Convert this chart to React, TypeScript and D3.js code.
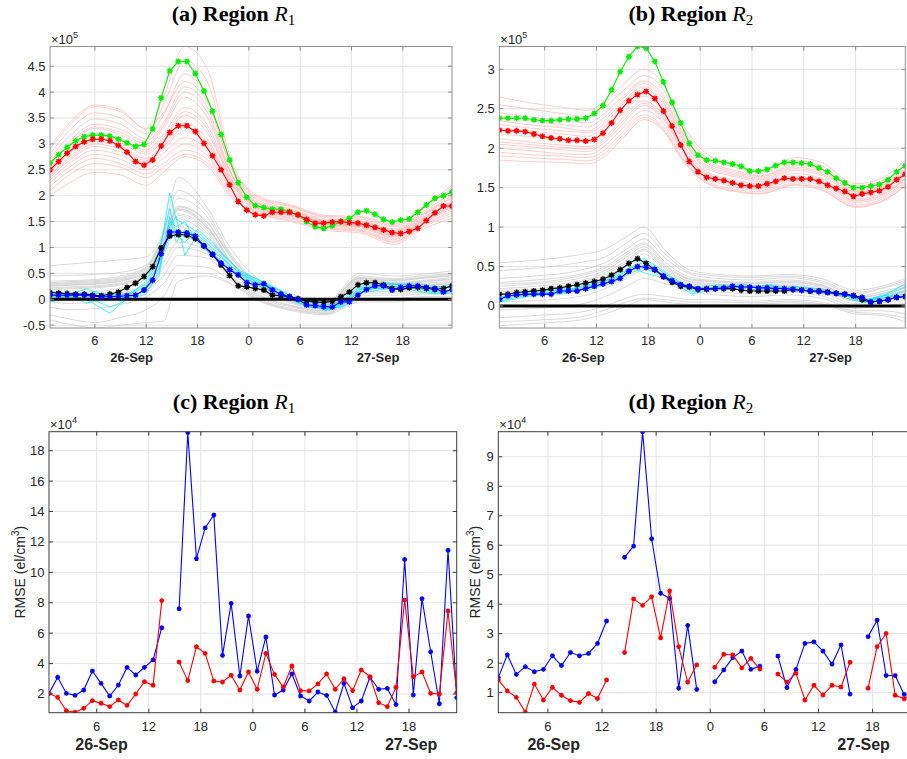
import React from 'react';
import * as d3 from 'd3';

// ---------- shared axis data ----------
const HOURS_TOP = d3.range(48).map((i) => 0.75 + i);
const HOURS_BOT = d3.range(48).map((i) => 0.5 + i);
const X_TICKS = [6, 12, 18, 24, 30, 36, 42];
const X_TICK_LABELS = ['6', '12', '18', '0', '6', '12', '18'];
const DATES = ['26-Sep', '27-Sep'];

// ---------- (a) Region R1, values x1e5 ----------
const A_GREEN = [2.63,2.79,2.93,3.06,3.14,3.17,3.17,3.15,3.09,3.02,2.95,2.99,3.29,3.89,4.41,4.59,4.59,4.36,4.02,3.63,3.18,2.69,2.25,1.97,1.81,1.77,1.74,1.74,1.69,1.63,1.50,1.40,1.37,1.42,1.50,1.56,1.68,1.71,1.64,1.54,1.49,1.53,1.55,1.68,1.82,1.95,2.00,2.07];
const A_RED = [2.50,2.66,2.82,2.95,3.04,3.09,3.09,3.06,2.97,2.84,2.66,2.59,2.69,2.96,3.22,3.35,3.35,3.24,3.01,2.77,2.50,2.21,1.89,1.72,1.63,1.61,1.68,1.68,1.68,1.63,1.54,1.47,1.47,1.49,1.50,1.48,1.47,1.43,1.39,1.34,1.29,1.27,1.31,1.37,1.52,1.67,1.80,1.80];
const A_BLACK = [0.13,0.12,0.11,0.10,0.10,0.08,0.07,0.10,0.14,0.23,0.31,0.44,0.63,0.99,1.22,1.25,1.24,1.17,1.03,0.86,0.66,0.46,0.26,0.24,0.21,0.18,0.08,0.07,0.05,0.01,-0.03,-0.05,-0.06,-0.04,0.05,0.14,0.28,0.32,0.32,0.28,0.21,0.19,0.22,0.23,0.21,0.19,0.21,0.26];
const A_BLUE = [0.08,0.08,0.08,0.08,0.08,0.06,0.05,0.05,0.06,0.07,0.08,0.18,0.37,0.88,1.30,1.30,1.28,1.22,1.03,0.87,0.70,0.57,0.47,0.32,0.28,0.30,0.18,0.10,0.05,0.00,-0.11,-0.12,-0.14,-0.15,-0.05,-0.05,0.08,0.19,0.26,0.26,0.18,0.23,0.26,0.26,0.23,0.21,0.14,0.19];

const A_PINK_KNOTS = [0.75, 3, 6, 9, 12, 14, 16.5, 19, 22, 25, 29, 33, 37, 41, 44, 47.75];
const A_PINK = [
  [2.90,3.35,3.72,3.62,3.30,3.90,4.88,4.50,2.65,2.00,1.82,1.62,1.60,1.45,1.75,2.20],
  [2.95,3.40,3.75,3.66,3.28,3.60,4.20,3.85,2.55,1.98,1.80,1.60,1.58,1.42,1.72,2.15],
  [2.80,3.25,3.60,3.50,3.20,3.75,4.60,4.25,2.58,1.95,1.78,1.58,1.55,1.40,1.70,2.12],
  [2.72,3.15,3.48,3.38,3.10,3.55,4.35,3.95,2.50,1.92,1.74,1.55,1.52,1.36,1.65,2.05],
  [2.65,3.05,3.38,3.28,3.05,3.40,4.10,3.75,2.42,1.88,1.72,1.52,1.50,1.33,1.62,2.00],
  [2.62,3.00,3.33,3.22,3.00,3.35,4.00,3.65,2.40,1.86,1.71,1.51,1.48,1.31,1.60,1.97],
  [2.58,2.98,3.30,3.18,2.95,3.30,3.90,3.55,2.38,1.85,1.70,1.50,1.47,1.30,1.58,1.95],
  [2.52,2.90,3.20,3.10,2.88,3.18,3.70,3.40,2.33,1.83,1.68,1.48,1.45,1.28,1.55,1.90],
  [2.48,2.86,3.16,3.06,2.84,3.12,3.62,3.32,2.30,1.81,1.67,1.47,1.44,1.26,1.53,1.88],
  [2.45,2.82,3.12,3.02,2.80,3.08,3.55,3.25,2.28,1.80,1.66,1.47,1.43,1.25,1.52,1.86],
  [2.40,2.75,3.05,2.95,2.72,2.98,3.40,3.12,2.24,1.78,1.64,1.45,1.42,1.23,1.50,1.82],
  [2.38,2.72,3.00,2.90,2.68,2.94,3.32,3.06,2.22,1.77,1.63,1.44,1.41,1.22,1.48,1.80],
  [2.35,2.68,2.95,2.85,2.65,2.90,3.25,3.00,2.20,1.76,1.62,1.44,1.40,1.20,1.47,1.78],
  [2.30,2.62,2.88,2.78,2.58,2.82,3.12,2.90,2.15,1.74,1.60,1.42,1.38,1.18,1.45,1.75],
  [2.25,2.55,2.80,2.70,2.50,2.72,3.00,2.80,2.10,1.72,1.57,1.40,1.35,1.15,1.42,1.70],
  [2.18,2.48,2.72,2.62,2.42,2.62,2.88,2.72,2.05,1.70,1.55,1.38,1.33,1.12,1.40,1.66],
  [2.10,2.40,2.62,2.55,2.35,2.55,2.80,2.65,2.00,1.68,1.52,1.36,1.31,1.10,1.37,1.62],
  [2.00,2.25,2.45,2.40,2.20,2.45,2.75,2.60,1.95,1.66,1.50,1.33,1.28,1.06,1.33,1.56],
];
const A_GRAY_KNOTS = [0.75, 3, 6, 9, 12, 14, 15.75, 19, 22, 25, 29, 33, 37, 41, 44, 47.75];
const A_GRAY = [
  [0.65,0.68,0.72,0.76,0.82,1.30,2.35,1.80,0.95,0.40,0.10,-0.05,0.50,0.45,0.48,0.55],
  [0.45,0.46,0.48,0.52,0.66,1.22,1.95,1.62,0.82,0.32,0.04,-0.06,0.42,0.38,0.42,0.48],
  [0.35,0.36,0.38,0.45,0.62,1.25,2.10,1.70,0.85,0.35,0.05,-0.08,0.45,0.40,0.45,0.50],
  [0.32,0.34,0.36,0.42,0.60,1.18,1.80,1.52,0.80,0.31,0.03,-0.09,0.41,0.36,0.41,0.46],
  [0.30,0.32,0.34,0.40,0.58,1.15,1.78,1.50,0.78,0.30,0.02,-0.10,0.40,0.35,0.40,0.45],
  [0.28,0.30,0.32,0.38,0.55,1.10,1.75,1.45,0.72,0.28,0.00,-0.12,0.38,0.32,0.36,0.42],
  [0.26,0.28,0.30,0.36,0.53,1.08,1.74,1.42,0.70,0.26,-0.01,-0.13,0.36,0.31,0.34,0.40],
  [0.25,0.27,0.29,0.35,0.52,1.05,1.72,1.40,0.68,0.25,-0.02,-0.14,0.35,0.30,0.33,0.38],
  [0.22,0.24,0.26,0.32,0.48,1.00,1.65,1.35,0.62,0.22,-0.04,-0.16,0.32,0.27,0.30,0.35],
  [0.20,0.22,0.24,0.30,0.46,0.98,1.62,1.30,0.60,0.21,-0.05,-0.17,0.30,0.26,0.28,0.32],
  [0.18,0.20,0.22,0.28,0.45,0.95,1.55,1.25,0.58,0.20,-0.06,-0.18,0.28,0.25,0.27,0.30],
  [0.12,0.13,0.15,0.22,0.40,0.85,1.40,1.10,0.52,0.15,-0.08,-0.20,0.22,0.20,0.22,0.25],
  [0.05,0.04,0.05,0.12,0.30,0.70,1.10,0.95,0.45,0.10,-0.12,-0.22,0.15,0.15,0.16,0.18],
  [0.00,-0.02,0.00,0.08,0.24,0.60,1.00,0.88,0.42,0.08,-0.13,-0.23,0.12,0.12,0.13,0.15],
  [-0.05,-0.08,-0.05,0.02,0.18,0.45,0.85,0.80,0.40,0.05,-0.15,-0.25,0.08,0.08,0.10,0.12],
  [-0.15,-0.20,-0.18,-0.10,0.05,0.30,0.65,0.62,0.35,0.02,-0.18,-0.27,0.02,0.02,0.05,0.06],
  [-0.30,-0.38,-0.45,-0.35,-0.20,0.05,0.50,0.50,0.30,0.00,-0.20,-0.28,-0.02,-0.02,0.02,0.02],
  [-0.40,-0.48,-0.55,-0.50,-0.45,-0.42,0.35,0.45,0.28,-0.02,-0.22,-0.30,-0.05,-0.05,0.00,0.00],
];
const A_CYAN_KNOTS = [0.75, 3, 5, 7.75, 10, 12, 13.5, 14.75, 15.5, 16.5, 18, 20, 23, 26, 29, 31, 33, 35, 37, 40, 43, 45.75, 47.75];
const A_CYAN = [
  [0.15,0.10,0.20,0.05,0.12,0.30,0.80,2.05,1.55,1.45,1.30,1.00,0.55,0.30,0.05,-0.10,-0.18,-0.08,0.20,0.30,0.28,0.20,0.25],
  [0.05,0.08,0.00,-0.27,0.05,0.15,0.45,1.60,1.10,1.35,1.20,0.90,0.50,0.28,0.02,-0.12,-0.20,-0.10,0.15,0.25,0.22,0.15,0.18],
  [0.10,0.00,0.12,0.10,0.02,0.20,0.60,1.40,1.60,0.85,1.25,0.95,0.48,0.25,0.00,-0.15,-0.15,-0.05,0.22,0.28,0.30,0.25,0.22],
  [0.00,0.12,-0.08,0.08,0.10,0.25,0.70,1.20,1.30,1.20,1.15,0.85,0.45,0.22,0.04,-0.08,-0.22,-0.12,0.18,0.22,0.25,0.12,0.15],
  [0.08,0.05,0.10,0.00,0.08,0.35,0.95,1.75,1.25,1.10,1.35,1.05,0.52,0.32,0.06,-0.05,-0.12,-0.02,0.25,0.32,0.26,0.22,0.30],
  [-0.05,0.02,0.05,-0.15,0.00,0.10,0.55,1.50,1.40,1.50,1.10,0.80,0.42,0.20,-0.02,-0.14,-0.18,-0.15,0.12,0.20,0.18,0.10,0.12],
];

// ---------- (b) Region R2, values x1e5 ----------
const B_GREEN = [2.38,2.38,2.38,2.38,2.36,2.35,2.35,2.36,2.37,2.37,2.38,2.44,2.54,2.74,2.97,3.16,3.29,3.27,3.10,2.84,2.58,2.32,2.06,1.91,1.85,1.84,1.82,1.80,1.77,1.71,1.71,1.73,1.78,1.82,1.82,1.81,1.80,1.75,1.70,1.62,1.56,1.50,1.50,1.52,1.54,1.60,1.70,1.78];
const B_RED = [2.23,2.22,2.22,2.21,2.18,2.15,2.13,2.12,2.10,2.10,2.09,2.11,2.19,2.32,2.48,2.60,2.68,2.72,2.63,2.47,2.28,2.04,1.83,1.70,1.63,1.61,1.59,1.56,1.53,1.52,1.52,1.55,1.58,1.62,1.61,1.61,1.61,1.58,1.53,1.49,1.45,1.39,1.42,1.44,1.46,1.51,1.60,1.67];
const B_BLACK = [0.15,0.15,0.17,0.18,0.19,0.20,0.22,0.23,0.25,0.27,0.29,0.31,0.34,0.39,0.46,0.54,0.60,0.54,0.46,0.37,0.30,0.25,0.24,0.21,0.21,0.22,0.22,0.22,0.20,0.19,0.19,0.19,0.19,0.19,0.21,0.20,0.19,0.19,0.18,0.16,0.15,0.13,0.08,0.05,0.06,0.08,0.11,0.12];
const B_BLUE = [0.08,0.13,0.14,0.15,0.15,0.15,0.15,0.19,0.19,0.19,0.22,0.25,0.28,0.31,0.35,0.44,0.50,0.49,0.46,0.38,0.32,0.27,0.25,0.22,0.22,0.22,0.23,0.25,0.24,0.24,0.23,0.23,0.22,0.22,0.21,0.20,0.19,0.18,0.17,0.16,0.15,0.13,0.11,0.05,0.06,0.08,0.11,0.12];

const B_PINK_KNOTS = [0.75, 4, 8, 11, 13, 15, 17.5, 19.5, 22, 24.5, 28, 31, 35, 38, 42, 45, 47.75];
const B_PINK = [
  [2.65,2.58,2.52,2.48,2.60,2.80,3.00,2.85,2.30,1.95,1.80,1.72,1.88,1.82,1.55,1.62,1.85],
  [2.55,2.50,2.44,2.40,2.52,2.72,2.92,2.78,2.25,1.90,1.76,1.68,1.84,1.78,1.52,1.58,1.80],
  [2.45,2.40,2.35,2.32,2.45,2.65,2.85,2.70,2.20,1.85,1.72,1.65,1.80,1.74,1.48,1.55,1.76],
  [2.40,2.35,2.30,2.27,2.40,2.62,2.82,2.66,2.18,1.83,1.70,1.64,1.78,1.72,1.46,1.53,1.74],
  [2.35,2.30,2.26,2.22,2.36,2.58,2.78,2.62,2.15,1.80,1.68,1.62,1.76,1.70,1.45,1.52,1.72],
  [2.30,2.26,2.22,2.20,2.32,2.55,2.75,2.60,2.12,1.78,1.66,1.60,1.74,1.68,1.44,1.50,1.70],
  [2.25,2.22,2.18,2.15,2.28,2.50,2.72,2.55,2.10,1.76,1.64,1.58,1.72,1.66,1.42,1.49,1.68],
  [2.18,2.15,2.10,2.08,2.20,2.44,2.66,2.50,2.05,1.72,1.60,1.55,1.68,1.62,1.39,1.46,1.65],
  [2.12,2.08,2.04,2.02,2.14,2.38,2.60,2.45,2.00,1.70,1.57,1.52,1.65,1.59,1.36,1.43,1.62],
  [2.08,2.05,2.01,1.99,2.11,2.34,2.57,2.42,1.98,1.68,1.55,1.50,1.63,1.57,1.34,1.41,1.61],
  [2.05,2.02,1.98,1.96,2.08,2.30,2.54,2.40,1.96,1.67,1.54,1.49,1.62,1.56,1.33,1.40,1.60],
  [2.00,1.97,1.93,1.92,2.03,2.25,2.48,2.35,1.92,1.64,1.51,1.47,1.59,1.53,1.31,1.38,1.57],
  [1.95,1.92,1.90,1.88,1.98,2.20,2.42,2.30,1.88,1.60,1.48,1.45,1.56,1.50,1.28,1.35,1.55],
  [1.90,1.88,1.86,1.84,1.94,2.16,2.39,2.27,1.86,1.58,1.46,1.43,1.54,1.48,1.26,1.33,1.53],
  [1.85,1.83,1.82,1.80,1.90,2.12,2.36,2.25,1.84,1.57,1.45,1.42,1.53,1.47,1.25,1.32,1.52],
];
const B_GRAY_KNOTS = [0.75, 5, 10, 13, 15.5, 17.5, 20, 23, 26, 30, 34, 38, 42, 45, 47.75];
const B_GRAY = [
  [0.55,0.58,0.65,0.72,0.88,1.00,0.70,0.45,0.40,0.38,0.40,0.35,0.20,0.25,0.35],
  [0.45,0.48,0.55,0.62,0.80,0.92,0.65,0.42,0.38,0.36,0.38,0.32,0.17,0.23,0.32],
  [0.35,0.38,0.45,0.55,0.72,0.85,0.60,0.40,0.35,0.33,0.36,0.30,0.15,0.22,0.30],
  [0.30,0.33,0.40,0.50,0.68,0.80,0.55,0.36,0.32,0.30,0.33,0.27,0.12,0.18,0.26],
  [0.28,0.30,0.38,0.48,0.65,0.78,0.52,0.34,0.31,0.29,0.31,0.26,0.11,0.16,0.24],
  [0.25,0.28,0.35,0.45,0.62,0.75,0.50,0.33,0.30,0.28,0.30,0.25,0.10,0.15,0.23],
  [0.22,0.25,0.32,0.42,0.58,0.72,0.48,0.31,0.28,0.26,0.28,0.23,0.08,0.13,0.20],
  [0.20,0.22,0.30,0.40,0.55,0.70,0.46,0.30,0.26,0.24,0.26,0.21,0.07,0.12,0.18],
  [0.18,0.20,0.27,0.37,0.52,0.66,0.44,0.28,0.25,0.23,0.25,0.20,0.06,0.11,0.17],
  [0.12,0.14,0.20,0.30,0.45,0.58,0.40,0.25,0.22,0.20,0.22,0.17,0.03,0.08,0.13],
  [0.05,0.07,0.12,0.22,0.35,0.45,0.35,0.22,0.18,0.16,0.18,0.13,0.00,0.04,0.08],
  [-0.05,-0.03,0.02,0.12,0.25,0.35,0.28,0.18,0.14,0.12,0.14,0.10,-0.03,0.00,0.03],
  [-0.15,-0.12,-0.08,0.00,0.10,0.15,0.12,0.08,0.08,0.06,0.08,0.05,-0.06,-0.06,-0.10],
  [-0.20,-0.18,-0.14,-0.05,0.05,0.10,0.08,0.05,0.05,0.04,0.06,0.03,-0.08,-0.10,-0.15],
  [-0.25,-0.22,-0.18,-0.10,0.00,0.08,0.05,0.02,0.02,0.02,0.04,0.02,-0.10,-0.12,-0.20],
];
const B_CYAN_KNOTS = [0.75, 4, 8, 11, 14, 16, 17.5, 19, 21, 23, 26, 29, 32, 35, 38, 41, 43, 45, 47.75];
const B_CYAN = [
  [0.10,0.18,0.20,0.25,0.38,0.55,0.60,0.50,0.35,0.22,0.27,0.25,0.24,0.22,0.20,0.15,0.08,0.12,0.28],
  [0.05,0.12,0.17,0.22,0.33,0.45,0.52,0.45,0.30,0.15,0.22,0.28,0.20,0.25,0.18,0.12,0.05,0.10,0.15],
  [0.12,0.15,0.22,0.20,0.30,0.42,0.48,0.42,0.32,0.25,0.20,0.22,0.27,0.20,0.16,0.14,0.06,0.08,0.20],
  [0.08,0.16,0.15,0.24,0.36,0.50,0.42,0.38,0.28,0.20,0.24,0.20,0.22,0.24,0.22,0.10,0.04,0.14,0.10],
  [0.06,0.14,0.19,0.27,0.34,0.48,0.56,0.48,0.33,0.18,0.25,0.23,0.26,0.18,0.19,0.13,0.07,0.11,0.24],
];

// ---------- (c) RMSE Region R1, values x1e4 ----------
const C_BLUE = [2.04,3.10,2.04,1.91,2.26,3.51,2.70,1.87,2.59,3.75,3.25,3.75,4.24,6.36,null,7.61,19.2,10.90,12.92,13.77,4.54,7.96,3.18,7.13,3.49,5.75,1.93,2.26,3.32,1.87,1.54,2.13,1.91,0.80,2.70,1.10,1.54,3.10,2.31,2.37,1.30,10.85,1.93,8.27,4.78,1.36,11.45,1.76];
const C_RED = [2.04,1.78,0.90,0.80,1.06,1.56,1.39,1.17,1.61,1.25,2.00,2.81,2.57,8.14,null,4.10,2.88,5.11,4.67,2.85,2.79,3.23,2.26,3.45,2.31,4.67,3.29,2.46,3.84,2.22,2.20,2.66,3.32,2.31,3.01,2.22,3.58,3.14,1.43,1.17,2.44,8.18,3.14,3.45,2.04,2.00,7.46,2.09];

// ---------- (d) RMSE Region R2, values x1e4 ----------
const D_BLUE = [1.51,2.28,1.62,1.88,1.71,1.79,2.25,1.92,2.36,2.25,2.33,2.67,3.43,null,5.59,5.97,9.85,6.22,4.37,4.20,1.15,3.28,1.11,null,1.37,1.77,2.19,2.41,1.79,1.90,null,2.24,1.17,1.79,2.67,2.72,2.41,1.97,2.62,0.95,null,2.90,3.46,1.58,1.58,0.94,0.90,1.10];
const D_RED = [1.43,1.06,0.84,0.34,1.29,0.75,1.18,0.91,0.73,0.67,0.97,0.80,1.43,null,2.36,4.18,3.96,4.25,2.86,4.45,2.56,1.36,1.94,null,1.86,2.30,2.28,1.84,2.16,1.80,null,1.63,1.36,1.66,0.75,1.25,0.92,1.25,1.19,2.03,null,1.15,2.56,3.01,0.91,0.79,1.00,0.90];

// ---------- rendering ----------
const SANS = '"Liberation Sans", Arial, Helvetica, sans-serif';
const SERIF = '"Liberation Serif", "Times New Roman", serif';
const TXT = '#262626';

type Ens = { knots: number[]; members: number[][]; color: string; width: number; smooth: boolean; opacity: number };
type Ser = { hours: number[]; values: (number | null)[]; color: string; r: number; width: number };
type PanelCfg = {
  id: string;
  left: number; right: number; top: number; bottom: number;
  xDomain: [number, number]; yDomain: [number, number];
  yTicks: number[]; expo: string;
  title: string; sub: string; titleX: number; titleY: number;
  datePos: [number, number]; dateSize: number; dateY: number; tickY: number;
  frame: string; zero: boolean;
  ens: Ens[]; series: Ser[];
  ylabelX?: number;
};

function asterisk(x: number, y: number, r: number) {
  const d = r * 0.72;
  return `M${x - r},${y}L${x + r},${y}M${x},${y - r}L${x},${y + r}M${x - d},${y - d}L${x + d},${y + d}M${x - d},${y + d}L${x + d},${y - d}`;
}

function Panel({ p }: { p: PanelCfg }) {
  const x = d3.scaleLinear().domain(p.xDomain).range([p.left, p.right]);
  const y = d3.scaleLinear().domain(p.yDomain).range([p.bottom, p.top]);
  const clipId = `clip-${p.id}`;
  const tl = 4;
  return (
    <g>
      <defs>
        <clipPath id={clipId}>
          <rect x={p.left} y={p.top} width={p.right - p.left} height={p.bottom - p.top} />
        </clipPath>
      </defs>
      <rect x={p.left} y={p.top} width={p.right - p.left} height={p.bottom - p.top} fill="#fff" />
      <g clipPath={`url(#${clipId})`}>
        {X_TICKS.map((t) => (
          <line key={'gx' + t} x1={x(t)} x2={x(t)} y1={p.top} y2={p.bottom} stroke="#e3e3e3" strokeWidth={1} />
        ))}
        {p.yTicks.map((t) => (
          <line key={'gy' + t} x1={p.left} x2={p.right} y1={y(t)} y2={y(t)} stroke="#e3e3e3" strokeWidth={1} />
        ))}
      </g>
      <g clipPath={`url(#${clipId})`}>
        {p.ens.map((e, ei) => {
          const gen = d3
            .line<number>()
            .x((_, i) => x(e.knots[i]))
            .y((v) => y(v))
            .curve(e.smooth ? d3.curveMonotoneX : d3.curveLinear);
          return (
            <g key={'e' + ei}>
              {e.members.map((m, mi) => (
                <path key={mi} d={gen(m) || ''} fill="none" stroke={e.color} strokeWidth={e.width} strokeOpacity={e.opacity} />
              ))}
            </g>
          );
        })}
        {p.zero && (
          <line x1={p.left} x2={p.right} y1={y(0)} y2={y(0)} stroke="#000" strokeWidth={3} />
        )}
        {p.series.map((s, si) => {
          const gen = d3
            .line<number | null>()
            .defined((v) => v !== null)
            .x((_, i) => x(s.hours[i]))
            .y((v) => y(v as number));
          const marks = s.values
            .map((v, i) => (v === null ? '' : asterisk(x(s.hours[i]), y(v), s.r)))
            .join('');
          return (
            <g key={'s' + si}>
              <path d={gen(s.values) || ''} fill="none" stroke={s.color} strokeWidth={s.width} />
              <path d={marks} fill="none" stroke={s.color} strokeWidth={1.4} />
            </g>
          );
        })}
      </g>
      <rect x={p.left} y={p.top} width={p.right - p.left} height={p.bottom - p.top} fill="none" stroke={p.frame} strokeWidth={1} />
      {X_TICKS.map((t) => (
        <g key={'tx' + t}>
          <line x1={x(t)} x2={x(t)} y1={p.bottom} y2={p.bottom - tl} stroke={p.frame} />
          <line x1={x(t)} x2={x(t)} y1={p.top} y2={p.top + tl} stroke={p.frame} />
        </g>
      ))}
      {p.yTicks.map((t) => (
        <g key={'ty' + t}>
          <line x1={p.left} x2={p.left + tl} y1={y(t)} y2={y(t)} stroke={p.frame} />
          <line x1={p.right} x2={p.right - tl} y1={y(t)} y2={y(t)} stroke={p.frame} />
        </g>
      ))}
      {X_TICKS.map((t, i) => (
        <text key={'lx' + t} x={x(t)} y={p.tickY} textAnchor="middle" fontFamily={SANS} fontSize={13} fill={TXT}>
          {X_TICK_LABELS[i]}
        </text>
      ))}
      {p.yTicks.map((t) => (
        <text key={'ly' + t} x={p.left - 4.5} y={y(t) + 4.5} textAnchor="end" fontFamily={SANS} fontSize={13} fill={TXT}>
          {String(t)}
        </text>
      ))}
      {DATES.map((d, i) => (
        <text key={d} x={x(p.datePos[i])} y={p.dateY} textAnchor="middle" fontFamily={SANS} fontWeight="bold" fontSize={p.dateSize} fill={TXT}>
          {d}
        </text>
      ))}
      <text x={p.left + 1} y={p.top - 3} fontFamily={SANS} fontSize={13} fill={TXT}>
        ×10<tspan dy={-6} fontSize={9}>{p.expo}</tspan>
      </text>
      <text x={p.titleX} y={p.titleY} textAnchor="middle" fontFamily={SERIF} fontSize={22} fill="#000">
        <tspan fontWeight="bold">{p.title}</tspan>
        <tspan fontStyle="italic">R</tspan>
        <tspan dy={4} fontSize={15}>{p.sub}</tspan>
      </text>
      {p.ylabelX !== undefined && (
        <text
          transform={`translate(${p.ylabelX},${(p.top + p.bottom) / 2}) rotate(-90)`}
          textAnchor="middle"
          fontFamily={SANS}
          fontSize={14}
          fill={TXT}
        >
          RMSE (el/cm<tspan dy={-6} fontSize={10}>3</tspan>
          <tspan dy={6}>)</tspan>
        </text>
      )}
    </g>
  );
}

const PINK = '#ffb4b4';
const GRAY = '#c6c6c6';
const CYAN = '#00e6ff';

function topSeries(hours: number[], g: number[], r: number[], k: number[], b: number[]): Ser[] {
  return [
    { hours, values: g, color: '#00ee00', r: 3, width: 1.1 },
    { hours, values: r, color: '#ff0000', r: 3, width: 1.1 },
    { hours, values: k, color: '#000000', r: 3, width: 1.1 },
    { hours, values: b, color: '#0000ff', r: 3, width: 1.1 },
  ];
}

const PANELS: PanelCfg[] = [
  {
    id: 'a', left: 50, right: 452, top: 46.5, bottom: 328,
    xDomain: [0.75, 47.75], yDomain: [-0.554, 4.88],
    yTicks: [-0.5, 0, 0.5, 1, 1.5, 2, 2.5, 3, 3.5, 4, 4.5], expo: '5',
    title: '(a) Region ', sub: '1', titleX: 233.5, titleY: 21,
    datePos: [10.3, 39.1], dateSize: 13, dateY: 362, tickY: 345,
    frame: '#8f8f8f', zero: true,
    ens: [
      { knots: A_PINK_KNOTS, members: A_PINK, color: PINK, width: 0.8, smooth: true, opacity: 0.85 },
      { knots: A_GRAY_KNOTS, members: A_GRAY, color: GRAY, width: 0.8, smooth: true, opacity: 0.85 },
      { knots: A_CYAN_KNOTS, members: A_CYAN, color: CYAN, width: 0.8, smooth: false, opacity: 0.9 },
    ],
    series: topSeries(HOURS_TOP, A_GREEN, A_RED, A_BLACK, A_BLUE),
  },
  {
    id: 'b', left: 499.3, right: 905.3, top: 46.5, bottom: 328,
    xDomain: [0.75, 47.75], yDomain: [-0.279, 3.289],
    yTicks: [0, 0.5, 1, 1.5, 2, 2.5, 3], expo: '5',
    title: '(b) Region ', sub: '2', titleX: 690.8, titleY: 21,
    datePos: [10.47, 39.1], dateSize: 13, dateY: 362, tickY: 345,
    frame: '#8f8f8f', zero: true,
    ens: [
      { knots: B_PINK_KNOTS, members: B_PINK, color: PINK, width: 0.8, smooth: true, opacity: 0.85 },
      { knots: B_GRAY_KNOTS, members: B_GRAY, color: GRAY, width: 0.8, smooth: true, opacity: 0.85 },
      { knots: B_CYAN_KNOTS, members: B_CYAN, color: CYAN, width: 0.8, smooth: false, opacity: 0.9 },
    ],
    series: topSeries(HOURS_TOP, B_GREEN, B_RED, B_BLACK, B_BLUE),
  },
  {
    id: 'c', left: 49, right: 456.7, top: 431.7, bottom: 712.7,
    xDomain: [0.5, 47.5], yDomain: [0.77, 19.25],
    yTicks: [2, 4, 6, 8, 10, 12, 14, 16, 18], expo: '4',
    title: '(c) Region ', sub: '1', titleX: 234, titleY: 409,
    datePos: [6.55, 42.25], dateSize: 16, dateY: 750, tickY: 731,
    frame: '#3c3c3c', zero: false, ens: [],
    series: [
      { hours: HOURS_BOT, values: C_BLUE, color: '#0000ff', r: 2.4, width: 1.1 },
      { hours: HOURS_BOT, values: C_RED, color: '#ff0000', r: 2.4, width: 1.1 },
    ],
    ylabelX: 25,
  },
  {
    id: 'd', left: 498.3, right: 922.2, top: 431.7, bottom: 712.7,
    xDomain: [0.5, 47.5], yDomain: [0.32, 9.85],
    yTicks: [1, 2, 3, 4, 5, 6, 7, 8, 9], expo: '4',
    title: '(d) Region ', sub: '2', titleX: 690.8, titleY: 409,
    datePos: [6.64, 41.0], dateSize: 16, dateY: 750, tickY: 731,
    frame: '#3c3c3c', zero: false, ens: [],
    series: [
      { hours: HOURS_BOT, values: D_BLUE, color: '#0000ff', r: 2.4, width: 1.1 },
      { hours: HOURS_BOT, values: D_RED, color: '#ff0000', r: 2.4, width: 1.1 },
    ],
    ylabelX: 480,
  },
];

export default function App() {
  return (
    <svg
      width={907}
      height={759}
      viewBox="0 0 907 759"
      style={{ position: 'absolute', left: 0, top: 0, background: '#fff' }}
    >
      <rect x={0} y={0} width={907} height={759} fill="#fff" />
      {PANELS.map((p) => (
        <Panel key={p.id} p={p} />
      ))}
    </svg>
  );
}
